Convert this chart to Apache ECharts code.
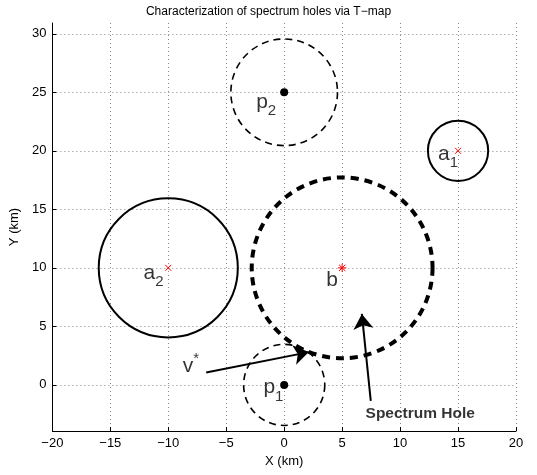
<!DOCTYPE html>
<html>
<head>
<meta charset="utf-8">
<script src="https://cdn.jsdelivr.net/npm/echarts@6/dist/echarts.min.js"></script>
<style>
html,body{margin:0;padding:0;background:#fff;}
#chart{width:537px;height:475px;}
</style>
</head>
<body>
<div id="chart"></div>
<script>
// ---- data ----
const xTicks = [-20, -15, -10, -5, 0, 5, 10, 15, 20];
const yTicks = [0, 5, 10, 15, 20, 25, 30];

// primary users p (dashed circles, black dots)
const pX = [0, 0];
const pY = [0, 25];
const pR = [3.5, 4.6];
// a nodes (solid circles, red x)
const aX = [15, -10];
const aY = [20, 10];
const aR = [2.6, 6.0];
// b node (thick dashed circle, red asterisk)
const bX = [5];
const bY = [10];
const bR = [7.8];

// text labels
const labelMain = ['a', 'a', 'b', 'p', 'p', 'v'];
const labelSub  = ['1', '2', '', '1', '2', ''];
const labelSup  = ['', '', '', '', '', '*'];
const labelX    = [13.28, -12.13, 3.62, -1.79, -2.42, -8.74];
const labelY    = [19.75, 9.53, 8.96, -0.22, 24.19, 1.57];

const holeText = ['Spectrum Hole'];
const holeTextX = [7.02];
const holeTextY = [-2.48];

// arrows: [x1, y1, x2, y2]
const arrowV = [-6.73, 1.05, 2.13, 2.8];
const arrowHole = [7.47, -1.37, 6.7, 6.06];

// ---- chart ----
const chart = echarts.init(document.getElementById('chart'), null, {renderer: 'canvas'});
const FONT = 'Liberation Sans, Arial, Helvetica, sans-serif';

function circleSeries(xs, ys, rs, width, dash) {
  return {
    type: 'custom',
    coordinateSystem: 'cartesian2d',
    silent: true,
    encode: {x: 0, y: 1},
    data: xs.map((x, i) => [x, ys[i], rs[i]]),
    renderItem: function (params, api) {
      const c = api.coord([api.value(0), api.value(1)]);
      const r = api.size([api.value(2), 0])[0];
      return {
        type: 'circle',
        shape: {cx: c[0], cy: c[1], r: r},
        style: {fill: 'none', stroke: '#000', lineWidth: width, lineDash: dash}
      };
    },
    z: 3
  };
}

function markerSeries(xs, ys, kind) {
  return {
    type: 'custom',
    coordinateSystem: 'cartesian2d',
    silent: true,
    encode: {x: 0, y: 1},
    data: xs.map((x, i) => [x, ys[i]]),
    renderItem: function (params, api) {
      const c = api.coord([api.value(0), api.value(1)]);
      const cx = c[0], cy = c[1];
      if (kind === 'dot') {
        return {type: 'circle', shape: {cx: cx, cy: cy, r: 4}, style: {fill: '#000'}};
      }
      const s = kind === 'x' ? 3 : 3.2;
      const red = {stroke: '#ff0000', lineWidth: 1};
      const children = [
        {type: 'line', shape: {x1: cx - s, y1: cy - s, x2: cx + s, y2: cy + s}, style: red},
        {type: 'line', shape: {x1: cx - s, y1: cy + s, x2: cx + s, y2: cy - s}, style: red}
      ];
      if (kind === 'star') {
        const t = 4.2;
        children.push({type: 'line', shape: {x1: cx - t, y1: cy, x2: cx + t, y2: cy}, style: red});
        children.push({type: 'line', shape: {x1: cx, y1: cy - t, x2: cx, y2: cy + t}, style: red});
      }
      return {type: 'group', children: children};
    },
    z: 5
  };
}

const labelData = labelMain.map((m, i) => ({
  value: [labelX[i], labelY[i]],
  text: '{m|' + m + '}' + (labelSub[i] ? '{s|' + labelSub[i] + '}' : '') + (labelSup[i] ? '{u|' + labelSup[i] + '}' : '')
}));

const option = {
  animation: false,
  backgroundColor: '#fff',
  title: {
    text: 'Characterization of spectrum holes via T\u2212map',
    left: 'center',
    top: 1,
    textStyle: {fontFamily: FONT, fontSize: 12, fontWeight: 'normal', color: '#000'}
  },
  grid: {left: 49, right: 21, top: 23, bottom: 44, containLabel: false},
  xAxis: {
    type: 'value',
    min: -20, max: 20, interval: 5,
    name: 'X (km)',
    nameLocation: 'middle',
    nameGap: 24,
    nameTextStyle: {fontFamily: FONT, fontSize: 13, color: '#000'},
    axisLine: {show: true, onZero: false, lineStyle: {color: '#000', width: 1}},
    axisTick: {show: true, inside: true, length: 4, lineStyle: {color: '#000'}},
    axisLabel: {
      fontFamily: FONT, fontSize: 13, color: '#000', margin: 6,
      formatter: v => (v < 0 ? '\u2212' + Math.abs(v) : String(v))
    },
    splitLine: {show: true, lineStyle: {color: '#888', type: [1, 3], width: 1}}
  },
  yAxis: {
    type: 'value',
    min: -3.94, max: 30.92,
    name: 'Y (km)',
    nameLocation: 'middle',
    nameGap: 31,
    nameTextStyle: {fontFamily: FONT, fontSize: 13, color: '#000'},
    axisLine: {show: true, onZero: false, lineStyle: {color: '#000', width: 1}},
    axisTick: {show: true, inside: true, length: 4, lineStyle: {color: '#000'}, customValues: yTicks},
    axisLabel: {fontFamily: FONT, fontSize: 13, color: '#000', margin: 6, customValues: yTicks},
    splitLine: {show: true, lineStyle: {color: '#888', type: [1, 3], width: 1}}
  },
  series: [
    circleSeries(pX, pY, pR, 1.6, [7, 5]),
    circleSeries(aX, aY, aR, 2, null),
    circleSeries(bX, bY, bR, 4, [8, 6]),
    markerSeries(pX, pY, 'dot'),
    markerSeries(aX, aY, 'x'),
    markerSeries(bX, bY, 'star'),
    {
      type: 'lines',
      coordinateSystem: 'cartesian2d',
      silent: true,
      symbol: ['none', 'arrow'],
      symbolSize: [11, 15],
      lineStyle: {color: '#000', width: 2, opacity: 1},
      data: [arrowV, arrowHole].map(a => ({coords: [[a[0], a[1]], [a[2], a[3]]]})),
      z: 6
    },
    {
      type: 'scatter',
      silent: true,
      symbolSize: 0,
      data: labelData,
      label: {
        show: true,
        position: [0, 0],
        align: 'left',
        verticalAlign: 'middle',
        formatter: p => p.data.text,
        rich: {
          m: {fontFamily: FONT, fontSize: 21, lineHeight: 21, color: '#000'},
          s: {fontFamily: FONT, fontSize: 15, lineHeight: 15, color: '#000', padding: [18, 0, 0, 0]},
          u: {fontFamily: FONT, fontSize: 15, lineHeight: 15, color: '#000', padding: [0, 0, 16, 0]}
        }
      },
      z: 7
    },
    {
      type: 'scatter',
      silent: true,
      symbolSize: 0,
      data: holeText.map((t, i) => ({value: [holeTextX[i], holeTextY[i]], name: t})),
      label: {
        show: true,
        position: [0, 0],
        align: 'left',
        verticalAlign: 'middle',
        formatter: p => p.name,
        fontFamily: FONT, fontSize: 15.5, fontWeight: 'bold', color: '#000'
      },
      z: 7
    }
  ]
};
chart.setOption(option);
</script>
</body>
</html>
